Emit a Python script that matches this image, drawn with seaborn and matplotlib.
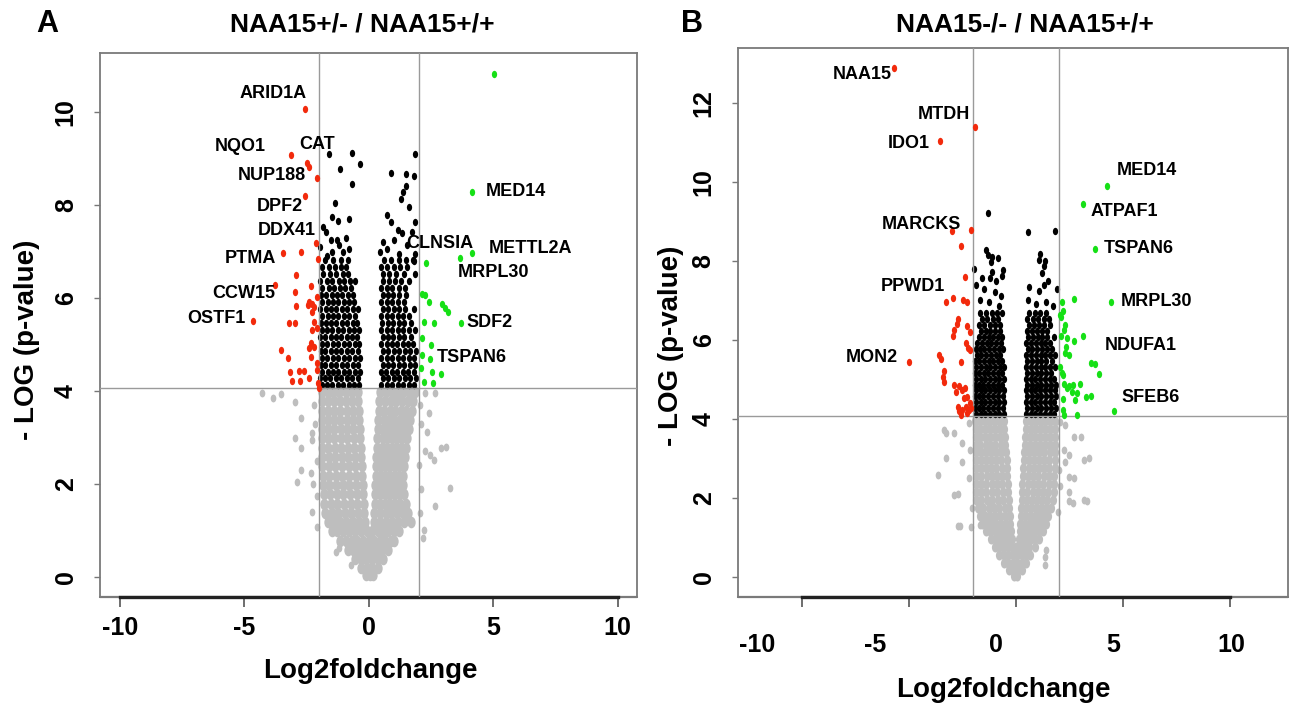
import numpy as np
import pandas as pd
import seaborn as sns
import matplotlib.pyplot as plt
from matplotlib.path import Path

# ---------------- panel A : NAA15+/- / NAA15+/+ ----------------
# dense grey cloud (not significant), read row by row: (-log p, [log2fc ...])
grey_a_rows = [
    (3.97, [-1.9, -1.66, -1.42, -1.18, -0.93, -0.69, -0.45, 0.45, 0.69, 0.92, 1.16, 1.39, 1.62, 1.85]),
    (3.78, [-1.88, -1.64, -1.4, -1.15, -0.91, -0.66, -0.42, 0.42, 0.65, 0.88, 1.1, 1.33, 1.56, 1.78]),
    (3.58, [-1.88, -1.63, -1.39, -1.14, -0.89, -0.65, -0.4, 0.4, 0.62, 0.85, 1.07, 1.29, 1.51, 1.72]),
    (3.38, [-1.9, -1.65, -1.4, -1.14, -0.89, -0.63, -0.38, 0.38, 0.6, 0.82, 1.03, 1.24, 1.45, 1.66]),
    (3.18, [-1.9, -1.64, -1.38, -1.13, -0.87, -0.62, -0.36, 0.36, 0.57, 0.78, 0.99, 1.19, 1.4, 1.6]),
    (2.98, [-1.9, -1.64, -1.38, -1.12, -0.86, -0.6, -0.34, 0.34, 0.55, 0.75, 0.95, 1.15, 1.35, 1.55]),
    (2.78, [-1.9, -1.64, -1.37, -1.11, -0.85, -0.58, -0.32, 0.32, 0.52, 0.72, 0.92, 1.11, 1.31, 1.5]),
    (2.58, [-1.88, -1.62, -1.35, -1.09, -0.83, -0.56, -0.3, 0.3, 0.5, 0.69, 0.88, 1.07, 1.27, 1.46]),
    (2.38, [-1.88, -1.61, -1.34, -1.08, -0.81, -0.55, -0.28, 0.28, 0.47, 0.66, 0.85, 1.04, 1.23, 1.42]),
    (2.18, [-1.86, -1.6, -1.33, -1.06, -0.8, -0.53, -0.26, 0.27, 0.46, 0.64, 0.83, 1.01, 1.2, 1.38]),
    (1.98, [-1.86, -1.59, -1.32, -1.05, -0.78, -0.51, -0.24, 0.26, 0.44, 0.62, 0.81, 0.99, 1.17, 1.36]),
    (1.78, [-1.82, -1.55, -1.29, -1.02, -0.75, -0.49, -0.22, 0.25, 0.44, 0.63, 0.82, 1.02, 1.21, 1.4]),
    (1.58, [-1.8, -1.53, -1.27, -1.0, -0.73, -0.47, -0.2, 0.24, 0.45, 0.66, 0.86, 1.07, 1.27, 1.48]),
    (1.38, [-1.76, -1.5, -1.24, -0.97, -0.71, -0.44, -0.18, 0.22, 0.45, 0.68, 0.9, 1.13, 1.36, 1.58]),
    (1.18, [-1.66, -1.41, -1.16, -0.9, -0.65, -0.4, -0.15, 0.2, 0.45, 0.69, 0.94, 1.19, 1.43, 1.68]),
    (0.98, [-1.5, -1.26, -1.02, -0.78, -0.54, -0.3, -0.08, 0.14, 0.36, 0.58, 0.79, 1.0, 1.22]),
    (0.78, [-1.15, -0.92, -0.69, -0.46, -0.23, 0.0, 0.22, 0.44, 0.66, 0.88, 1.0]),
    (0.58, [-0.85, -0.62, -0.4, -0.17, 0.06, 0.29, 0.52, 0.78]),
    (0.38, [-0.55, -0.32, -0.1, 0.12, 0.35, 0.58]),
    (0.2, [-0.32, -0.09, 0.14, 0.36]),
    (0.05, [-0.12, 0.04, 0.16]),
]
grey_a_out = [(-4.3, 3.95), (-3.85, 3.86), (-3.52, 3.94), (-2.95, 3.77), (-2.74, 3.42), (-2.95, 2.98),
              (-2.72, 2.77), (-2.27, 2.95), (-2.74, 2.3), (-2.88, 2.05), (-2.34, 2.23), (-2.27, 1.4),
              (-2.07, 1.08), (-1.32, 0.54), (-1.19, 0.62), (-0.71, 0.26), (-2.2, 3.7), (-2.15, 3.3),
              (-2.3, 3.1), (-2.1, 2.5), (-2.25, 2.0), (-2.1, 1.75),
              (2.27, 3.95), (2.67, 3.95), (2.41, 3.52), (2.34, 3.12), (2.88, 2.77), (3.11, 2.8),
              (2.27, 2.7), (2.47, 2.62), (2.61, 2.52), (3.28, 1.91), (2.65, 1.53), (2.07, 1.37),
              (2.2, 1.01), (2.16, 0.83), (2.05, 3.7), (2.1, 3.3), (2.0, 2.4), (2.1, 1.9)]

black_a_rows = [
    (4.12, [-1.9, -1.68, -1.46, -1.24, -1.02, -0.8, -0.58, -0.38, 0.5, 0.72, 0.94, 1.16, 1.38, 1.6, 1.82]),
    (4.27, [-1.95, -1.77, -1.55, -1.33, -1.11, -0.89, -0.67, -0.45, 0.56, 0.78, 1.0, 1.22, 1.44, 1.66, 1.88]),
    (4.42, [-1.88, -1.66, -1.44, -1.22, -1.0, -0.78, -0.56, -0.36, 0.48, 0.7, 0.92, 1.14, 1.36, 1.58, 1.8]),
    (4.57, [-1.94, -1.75, -1.53, -1.31, -1.09, -0.87, -0.65, -0.44, 0.55, 0.77, 0.99, 1.21, 1.43, 1.65, 1.86]),
    (4.72, [-1.9, -1.67, -1.45, -1.23, -1.01, -0.79, -0.57, -0.37, 0.5, 0.72, 0.94, 1.16, 1.38, 1.6, 1.8]),
    (4.87, [-1.93, -1.76, -1.54, -1.32, -1.1, -0.88, -0.66, -0.45, 0.56, 0.78, 1.0, 1.22, 1.44, 1.66, 1.9]),
    (5.02, [-1.89, -1.67, -1.45, -1.23, -1.01, -0.79, -0.57, -0.38, 0.5, 0.71, 0.93, 1.15, 1.37, 1.59, 1.78]),
    (5.17, [-1.95, -1.76, -1.54, -1.32, -1.1, -0.88, -0.66, -0.46, 0.55, 0.77, 0.99, 1.21, 1.43, 1.68]),
    (5.32, [-1.9, -1.68, -1.46, -1.24, -1.02, -0.8, -0.58, -0.4, 0.5, 0.72, 0.94, 1.16, 1.38, 1.62, 1.86]),
    (5.47, [-1.93, -1.74, -1.52, -1.3, -1.08, -0.86, -0.64, -0.47, 0.54, 0.76, 0.98, 1.2, 1.42, 1.7]),
    (5.62, [-1.88, -1.66, -1.44, -1.22, -1.0, -0.78, -0.56, 0.5, 0.72, 0.94, 1.16, 1.38, 1.6]),
    (5.77, [-1.95, -1.74, -1.52, -1.3, -1.08, -0.86, -0.64, -0.45, 0.56, 0.78, 1.0, 1.22, 1.46, 1.8]),
    (5.92, [-1.9, -1.66, -1.44, -1.22, -1.0, -0.78, -0.58, 0.5, 0.72, 0.94, 1.16, 1.4]),
    (6.07, [-1.93, -1.72, -1.5, -1.28, -1.06, -0.84, -0.62, 0.55, 0.77, 0.99, 1.21, 1.5]),
    (6.22, [-1.88, -1.6, -1.38, -1.16, -0.94, -0.72, 0.5, 0.72, 0.94, 1.2, 1.45]),
    (6.37, [-1.95, -1.7, -1.46, -1.2, -0.98, -0.76, -0.55, 0.55, 0.8, 1.05, 1.3, 1.62]),
    (6.52, [-1.85, -1.58, -1.3, -1.05, -0.82, 0.58, 0.82, 1.1, 1.4, 1.85]),
    (6.67, [-1.9, -1.62, -1.36, -1.12, -0.9, 0.5, 0.75, 1.0, 1.25, 1.55]),
    (6.82, [-1.75, -1.42, -1.1, -0.85, 0.62, 0.9, 1.2, 1.5, 1.78]),
]
black_a_top = [(-1.62, 9.1), (-0.67, 9.13), (-0.37, 8.88), (-1.15, 8.77), (-0.67, 8.45), (-1.36, 8.04),
               (-1.46, 7.74), (-1.25, 7.66), (-0.8, 7.71), (-1.86, 7.53), (-1.73, 7.43), (-1.52, 7.25),
               (-1.28, 7.25), (-1.19, 7.14), (-0.91, 7.3), (-1.95, 7.1), (-1.5, 7.0), (-1.05, 6.98),
               (-0.8, 7.05), (-1.7, 6.9),
               (1.85, 9.1), (0.91, 8.7), (1.48, 8.66), (1.8, 8.63), (1.48, 8.41), (1.39, 8.29),
               (1.29, 8.14), (1.62, 7.95), (0.71, 7.78), (0.89, 7.64), (1.86, 7.63), (1.19, 7.46),
               (1.35, 7.39), (1.73, 7.43), (0.55, 7.2), (1.0, 7.25), (1.55, 7.15), (1.85, 6.95),
               (0.75, 7.05), (1.2, 6.95), (0.44, 7.0), (1.81, 6.8)]

red_a = [(-2.58, 10.06), (-3.13, 9.08), (-2.47, 8.9), (-2.42, 8.82), (-2.1, 8.59), (-2.56, 8.2),
         (-2.11, 7.18), (-3.46, 6.96), (-2.71, 6.98), (-2.06, 6.83), (-2.93, 6.49), (-3.79, 6.27),
         (-2.34, 6.26), (-2.95, 6.14), (-2.07, 6.03), (-2.39, 5.92), (-2.3, 5.88), (-2.2, 5.81),
         (-2.43, 5.85), (-2.27, 5.71), (-2.92, 5.83), (-4.64, 5.51), (-3.22, 5.46), (-2.98, 5.46),
         (-2.2, 5.49), (-2.3, 5.31), (-2.07, 5.35), (-2.34, 5.03), (-2.2, 4.95), (-2.41, 4.92),
         (-3.53, 4.88), (-3.26, 4.72), (-2.34, 4.74), (-3.15, 4.42), (-2.82, 4.44), (-2.61, 4.44),
         (-3.1, 4.22), (-2.76, 4.21), (-2.41, 4.28), (-2.07, 4.6), (-2.09, 4.45), (-2.05, 4.17),
         (-2.02, 4.07)]
green_a = [(5.02, 10.81), (4.13, 8.29), (4.15, 6.97), (3.65, 6.87), (2.28, 6.76), (2.15, 6.08),
           (2.26, 6.06), (2.43, 5.91), (2.94, 5.87), (3.08, 5.78), (3.19, 5.71), (3.7, 5.47),
           (2.23, 5.49), (2.6, 5.46), (2.15, 5.15), (2.5, 4.99), (2.13, 4.77), (2.47, 4.68),
           (2.1, 4.49), (2.52, 4.42), (2.91, 4.37), (2.2, 4.2), (2.57, 4.18)]

genes_a = ['ARID1A', 'NQO1', 'CAT', 'NUP188', 'DPF2', 'DDX41', 'PTMA', 'CCW15', 'OSTF1',
           'MED14', 'CLNSIA', 'METTL2A', 'MRPL30', 'SDF2', 'TSPAN6']
gene_x_a = [-3.84, -5.15, -2.07, -3.89, -3.59, -3.3, -4.77, -5.04, -6.13, 5.89, 2.86, 6.48, 5.0, 4.85, 4.12]
gene_y_a = [10.41, 9.25, 9.31, 8.63, 7.96, 7.45, 6.85, 6.1, 5.56, 8.3, 7.18, 7.07, 6.54, 5.47, 4.72]

# ---------------- panel B : NAA15-/- / NAA15+/+ ----------------
grey_b_rows = [
    (3.95, [-1.92, -1.7, -1.47, -1.25, -1.03, -0.8, -0.58, 0.46, 0.68, 0.91, 1.14, 1.36, 1.59, 1.82]),
    (3.75, [-1.9, -1.68, -1.46, -1.22, -1.0, -0.77, -0.55, 0.44, 0.67, 0.9, 1.12, 1.35, 1.57, 1.8]),
    (3.55, [-1.9, -1.67, -1.44, -1.21, -0.98, -0.75, -0.52, 0.42, 0.65, 0.88, 1.11, 1.34, 1.57, 1.8]),
    (3.35, [-1.9, -1.67, -1.43, -1.2, -0.97, -0.73, -0.5, 0.4, 0.63, 0.86, 1.1, 1.33, 1.56, 1.8]),
    (3.15, [-1.86, -1.63, -1.4, -1.16, -0.93, -0.7, -0.47, 0.37, 0.61, 0.85, 1.08, 1.32, 1.56, 1.8]),
    (2.95, [-1.9, -1.66, -1.42, -1.17, -0.93, -0.69, -0.45, 0.35, 0.59, 0.83, 1.07, 1.31, 1.55, 1.8]),
    (2.75, [-1.9, -1.65, -1.41, -1.16, -0.92, -0.67, -0.43, 0.33, 0.58, 0.82, 1.06, 1.31, 1.55, 1.8]),
    (2.55, [-1.86, -1.62, -1.38, -1.13, -0.89, -0.65, -0.41, 0.31, 0.55, 0.8, 1.04, 1.28, 1.52, 1.76]),
    (2.35, [-1.9, -1.65, -1.4, -1.14, -0.89, -0.64, -0.39, 0.29, 0.54, 0.78, 1.03, 1.27, 1.52, 1.76]),
    (2.15, [-1.9, -1.64, -1.39, -1.13, -0.88, -0.62, -0.37, 0.27, 0.52, 0.77, 1.02, 1.26, 1.51, 1.76]),
    (1.95, [-1.9, -1.64, -1.38, -1.12, -0.87, -0.61, -0.35, 0.25, 0.49, 0.73, 0.98, 1.22, 1.46, 1.7]),
    (1.75, [-1.8, -1.55, -1.29, -1.04, -0.79, -0.54, -0.33, 0.24, 0.47, 0.71, 0.94, 1.18, 1.41, 1.65]),
    (1.55, [-1.7, -1.47, -1.23, -1.0, -0.77, -0.53, -0.3, 0.22, 0.43, 0.65, 0.86, 1.07, 1.29, 1.5]),
    (1.35, [-1.6, -1.37, -1.15, -0.93, -0.71, -0.49, -0.27, 0.2, 0.4, 0.6, 0.8, 1.0, 1.2, 1.4]),
    (1.15, [-1.4, -1.2, -1.0, -0.81, -0.61, -0.42, -0.23, 0.18, 0.36, 0.54, 0.72, 0.9, 1.07, 1.25]),
    (0.95, [-1.18, -1.0, -0.83, -0.67, -0.5, -0.34, -0.18, 0.15, 0.33, 0.51, 0.69, 0.87, 1.05]),
    (0.75, [-1.0, -0.8, -0.6, -0.4, -0.2, 0.0, 0.2, 0.4, 0.6, 0.9]),
    (0.55, [-0.8, -0.59, -0.38, -0.17, 0.04, 0.25, 0.45, 0.65]),
    (0.35, [-0.58, -0.37, -0.16, 0.05, 0.25, 0.45]),
    (0.18, [-0.35, -0.15, 0.05, 0.25]),
    (0.03, [-0.12, 0.05]),
]
grey_b_out = [(-3.36, 3.72), (-3.29, 3.64), (-2.9, 3.64), (-2.51, 3.38), (-3.26, 3.0), (-2.51, 2.92),
              (-3.67, 2.58), (-2.9, 2.08), (-2.7, 1.29), (-2.09, 1.26), (-1.71, 1.32), (-2.08, 1.74),
              (-2.74, 2.09), (-2.61, 1.3), (-2.2, 3.9), (-2.15, 3.2), (-2.2, 2.5),
              (2.06, 3.93), (2.29, 3.85), (2.68, 3.55), (3.04, 3.55), (2.22, 3.22), (2.45, 3.09),
              (2.29, 2.92), (3.19, 2.96), (3.38, 3.0), (2.45, 2.52), (2.68, 2.5), (2.45, 2.16),
              (2.48, 1.91), (3.16, 1.95), (1.94, 1.65), (1.41, 0.68), (1.36, 0.51), (1.33, 0.3),
              (2.66, 1.87), (3.29, 1.92), (2.0, 2.7), (2.05, 2.3)]

black_b_rows = [
    (4.12, [-1.88, -1.66, -1.44, -1.22, -1.0, -0.78, -0.56, 0.46, 0.68, 0.9, 1.12, 1.34, 1.56, 1.78]),
    (4.27, [-1.93, -1.75, -1.53, -1.31, -1.09, -0.87, -0.62, 0.52, 0.74, 0.96, 1.18, 1.4, 1.62, 1.85]),
    (4.42, [-1.88, -1.66, -1.44, -1.22, -1.0, -0.78, -0.56, 0.46, 0.68, 0.9, 1.12, 1.34, 1.56, 1.78]),
    (4.57, [-1.93, -1.75, -1.53, -1.31, -1.09, -0.87, -0.62, 0.52, 0.74, 0.96, 1.18, 1.4, 1.62, 1.85]),
    (4.72, [-1.88, -1.66, -1.44, -1.22, -1.0, -0.78, -0.57, 0.46, 0.68, 0.9, 1.12, 1.34, 1.56, 1.8]),
    (4.87, [-1.93, -1.75, -1.53, -1.31, -1.09, -0.87, -0.64, 0.52, 0.74, 0.96, 1.18, 1.4, 1.62, 1.86]),
    (5.02, [-1.88, -1.66, -1.44, -1.22, -1.0, -0.78, -0.58, 0.46, 0.68, 0.9, 1.12, 1.34, 1.56, 1.78]),
    (5.17, [-1.93, -1.74, -1.52, -1.3, -1.08, -0.86, -0.64, 0.52, 0.74, 0.96, 1.18, 1.4, 1.64]),
    (5.32, [-1.86, -1.64, -1.42, -1.2, -0.98, -0.76, -0.58, 0.48, 0.7, 0.92, 1.14, 1.36, 1.58, 1.8]),
    (5.47, [-1.92, -1.72, -1.5, -1.28, -1.06, -0.84, -0.64, 0.52, 0.74, 0.96, 1.18, 1.4, 1.66]),
    (5.62, [-1.85, -1.62, -1.4, -1.18, -0.96, -0.74, 0.48, 0.7, 0.92, 1.14, 1.36, 1.6, 1.82]),
    (5.77, [-1.9, -1.7, -1.48, -1.26, -1.04, -0.82, -0.62, 0.54, 0.76, 0.98, 1.2, 1.42, 1.68]),
    (5.92, [-1.82, -1.6, -1.38, -1.16, -0.94, -0.72, 0.48, 0.7, 0.92, 1.14, 1.36, 1.6]),
    (6.07, [-1.75, -1.5, -1.28, -1.06, -0.84, -0.64, 0.55, 0.78, 1.0, 1.22, 1.46, 1.75]),
    (6.22, [-1.65, -1.42, -1.2, -0.98, -0.76, 0.5, 0.72, 0.96, 1.2, 1.45]),
    (6.37, [-1.72, -1.48, -1.24, -1.0, -0.75, 0.58, 0.82, 1.06, 1.32, 1.6]),
    (6.52, [-1.6, -1.34, -1.1, -0.85, 0.52, 0.78, 1.02, 1.28, 1.55]),
    (6.67, [-1.68, -1.4, -1.15, -0.9, -0.66, 0.6, 0.86, 1.12, 1.4]),
]
black_b_top = [(-1.3, 9.22), (0.56, 8.72), (1.83, 8.75), (-1.43, 8.28), (-1.32, 8.15), (-1.12, 8.11),
               (-0.84, 8.08), (-1.16, 7.98), (1.13, 8.18), (1.05, 8.03), (1.33, 8.0), (1.29, 7.86),
               (-1.97, 7.79), (-0.62, 7.77), (-1.12, 7.73), (-1.58, 7.56), (-1.24, 7.56), (-0.96, 7.48),
               (-0.65, 7.62), (1.2, 7.7), (1.3, 7.4), (0.6, 7.35), (1.05, 7.25), (1.9, 7.3),
               (1.5, 7.5), (-1.9, 7.4), (-1.5, 7.3), (-1.0, 7.2), (-0.7, 7.1), (-1.7, 7.0),
               (-1.25, 6.95), (0.55, 7.0), (0.95, 6.9), (1.4, 6.95), (1.7, 6.85), (-0.8, 6.85)]

red_b = [(-5.7, 12.88), (-1.92, 11.38), (-3.58, 11.04), (-2.13, 8.77), (-3.02, 8.75), (-2.58, 8.37),
         (-2.38, 7.6), (-3.28, 6.97), (-2.95, 7.05), (-2.48, 7.02), (-2.3, 6.96), (-2.7, 6.53),
         (-2.78, 6.4), (-2.9, 6.25), (-2.94, 6.1), (-2.3, 6.36), (-2.15, 6.21), (-2.34, 5.92),
         (-2.25, 5.79), (-2.15, 5.75), (-4.99, 5.43), (-3.6, 5.62), (-3.49, 5.51), (-2.56, 5.43),
         (-3.36, 5.2), (-3.44, 5.07), (-3.36, 4.94), (-2.9, 4.86), (-2.67, 4.82), (-2.51, 4.73),
         (-2.39, 4.78), (-2.82, 4.69), (-2.28, 4.56), (-2.43, 4.52), (-2.17, 4.4), (-2.36, 4.31),
         (-2.74, 4.31), (-2.67, 4.19), (-2.51, 4.23), (-2.2, 4.23), (-2.28, 4.14), (-2.59, 4.1),
         (-2.13, 4.27)]
green_b = [(4.24, 9.9), (3.13, 9.44), (3.68, 8.29), (4.42, 6.97), (2.12, 6.97), (2.68, 7.03),
           (2.2, 6.72), (2.1, 6.59), (2.06, 6.63), (2.29, 6.38), (2.22, 6.25), (2.08, 6.1),
           (2.37, 6.04), (3.12, 6.1), (2.68, 5.96), (2.33, 5.83), (2.26, 5.66), (3.49, 5.41),
           (3.69, 5.39), (3.86, 5.14), (2.06, 5.32), (2.14, 5.16), (2.18, 5.11), (2.37, 4.78),
           (2.66, 4.86), (3.0, 4.88), (2.85, 4.65), (3.24, 4.56), (3.49, 4.58), (2.75, 4.48),
           (2.22, 4.88), (2.45, 4.82), (2.6, 4.69), (2.17, 4.5), (2.2, 4.23), (2.25, 4.1),
           (2.85, 4.1), (4.55, 4.19), (2.46, 5.62)]

genes_b = ['NAA15', 'MTDH', 'IDO1', 'MED14', 'ATPAF1', 'MARCKS', 'TSPAN6', 'PPWD1', 'MRPL30',
           'NDUFA1', 'MON2', 'SFEB6']
gene_x_b = [-7.19, -3.36, -5.0, 6.09, 5.07, -4.44, 5.71, -4.81, 6.58, 5.84, -6.74, 6.29]
gene_y_b = [12.73, 11.71, 10.96, 10.28, 9.25, 8.91, 8.32, 7.35, 6.97, 5.86, 5.56, 4.55]

xticks = [-10, -5, 0, 5, 10]
# panel B of the original figure has its tick labels shifted off the tick marks
xlabel_pos_b = [-12.1, -6.6, -0.95, 4.55, 10.03]

# ----------------------------------------------------------------
sns.set_style('white')
plt.rcParams['font.family'] = ['Liberation Sans', 'DejaVu Sans']
plt.rcParams['font.weight'] = 'bold'
plt.rcParams['text.color'] = 'black'
plt.rcParams['xtick.color'] = 'black'
plt.rcParams['ytick.color'] = 'black'

circ = Path.unit_circle()
oval = Path(circ.vertices * np.array([0.72, 1.0]), circ.codes)

GREY = '#bebebe'
RED = '#f22a0c'
GREEN = '#16e016'
LINE = '#9a9a9a'


def rows_to_df(rows):
    xs, ys = [], []
    for y, row in rows:
        xs += row
        ys += [y] * len(row)
    return pd.DataFrame({'lfc': xs, 'nlp': ys})


def pairs_to_df(pairs):
    return pd.DataFrame(pairs, columns=['lfc', 'nlp'])


def volcano(ax, grey_rows, grey_out, black_rows, black_top, red, green, dense_size):
    kw = dict(x='lfc', y='nlp', marker=oval, linewidth=0, ax=ax, legend=False)
    sns.scatterplot(data=rows_to_df(grey_rows), color=GREY, s=dense_size, zorder=1, **kw)
    sns.scatterplot(data=pairs_to_df(grey_out), color=GREY, s=32, zorder=1, **kw)
    sns.scatterplot(data=rows_to_df(black_rows), color='black', s=28, zorder=2, **kw)
    sns.scatterplot(data=pairs_to_df(black_top), color='black', s=28, zorder=2, **kw)
    sns.scatterplot(data=pairs_to_df(red), color=RED, s=28, zorder=4, **kw)
    sns.scatterplot(data=pairs_to_df(green), color=GREEN, s=28, zorder=4, **kw)
    ax.axvline(-2, color=LINE, lw=1, zorder=3)
    ax.axvline(2, color=LINE, lw=1, zorder=3)
    ax.axhline(4.06, color=LINE, lw=1, zorder=3)


def style_axes(ax, xlim, ylim, yticks):
    ax.set_xlim(*xlim)
    ax.set_ylim(*ylim)
    ax.set_xlabel('')
    ax.set_ylabel('')
    for side in ['top', 'left', 'right']:
        ax.spines[side].set_color('#7a7a7a')
        ax.spines[side].set_linewidth(1.3)
    ax.spines['bottom'].set_bounds(-10, 10)
    ax.spines['bottom'].set_color('#222222')
    ax.spines['bottom'].set_linewidth(2.4)
    ax.axhline(ylim[0], color='#7a7a7a', lw=1.6, clip_on=False, zorder=0)
    ax.set_yticks(yticks)
    ax.set_yticklabels([str(t) for t in yticks], rotation=90, va='center',
                       fontsize=18, fontweight='bold')
    ax.tick_params(axis='y', length=4, width=1, color='#777777', pad=12, left=True)
    ax.tick_params(axis='x', length=7, width=1.2, color='#555555', bottom=True)


fig = plt.figure(figsize=(12.96, 7.07), dpi=100)

# panel A
ax_a = fig.add_axes([0.0772, 0.1556, 0.4144, 0.7694])
volcano(ax_a, grey_a_rows, grey_a_out, black_a_rows, black_a_top, red_a, green_a, 70)
style_axes(ax_a, (-10.8, 10.78), (-0.43, 11.27), [0, 2, 4, 6, 8, 10])
ax_a.set_xticks(xticks)
ax_a.set_xticklabels([str(t) for t in xticks], fontsize=18, fontweight='bold')
ax_a.tick_params(axis='x', pad=7)
for g, gx, gy in zip(genes_a, gene_x_a, gene_y_a):
    ax_a.text(gx, gy, g, ha='center', va='center', fontsize=13, fontweight='bold', zorder=5)

# panel B
ax_b = fig.add_axes([0.5694, 0.1556, 0.4244, 0.7765])
volcano(ax_b, grey_b_rows, grey_b_out, black_b_rows, black_b_top, red_b, green_b, 52)
style_axes(ax_b, (-13.0, 12.7), (-0.51, 13.39), [0, 2, 4, 6, 8, 10, 12])
ax_b.set_xticks(xticks)
ax_b.set_xticklabels([''] * len(xticks))
ax_b.set_xticks(xlabel_pos_b, minor=True)
ax_b.set_xticklabels([str(t) for t in xticks], minor=True, fontsize=18, fontweight='bold')
ax_b.tick_params(axis='x', which='minor', length=0, pad=26)
for g, gx, gy in zip(genes_b, gene_x_b, gene_y_b):
    ax_b.text(gx, gy, g, ha='center', va='center', fontsize=13, fontweight='bold', zorder=5)

# titles, panel letters and axis labels
fig.text(47 / 1296, 1 - 24 / 707, 'A', fontsize=22, fontweight='bold', ha='center', va='center')
fig.text(692 / 1296, 1 - 24 / 707, 'B', fontsize=22, fontweight='bold', ha='center', va='center')
fig.text(362 / 1296, 1 - 24 / 707, 'NAA15+/- / NAA15+/+', fontsize=19, fontweight='bold',
         ha='center', va='center')
fig.text(1025 / 1296, 1 - 24 / 707, 'NAA15-/- / NAA15+/+', fontsize=19, fontweight='bold',
         ha='center', va='center')
fig.text(27 / 1296, 1 - 340 / 707, '- LOG (p-value)', rotation=90, fontsize=20,
         fontweight='bold', ha='center', va='center')
fig.text(671 / 1296, 1 - 346 / 707, '- LOG (p-value)', rotation=90, fontsize=20,
         fontweight='bold', ha='center', va='center')
fig.text(370 / 1296, 1 - 671 / 707, 'Log2foldchange', fontsize=20, fontweight='bold',
         ha='center', va='center')
fig.text(1003 / 1296, 1 - 690 / 707, 'Log2foldchange', fontsize=20, fontweight='bold',
         ha='center', va='center')

fig.savefig('out.png', dpi=100)
